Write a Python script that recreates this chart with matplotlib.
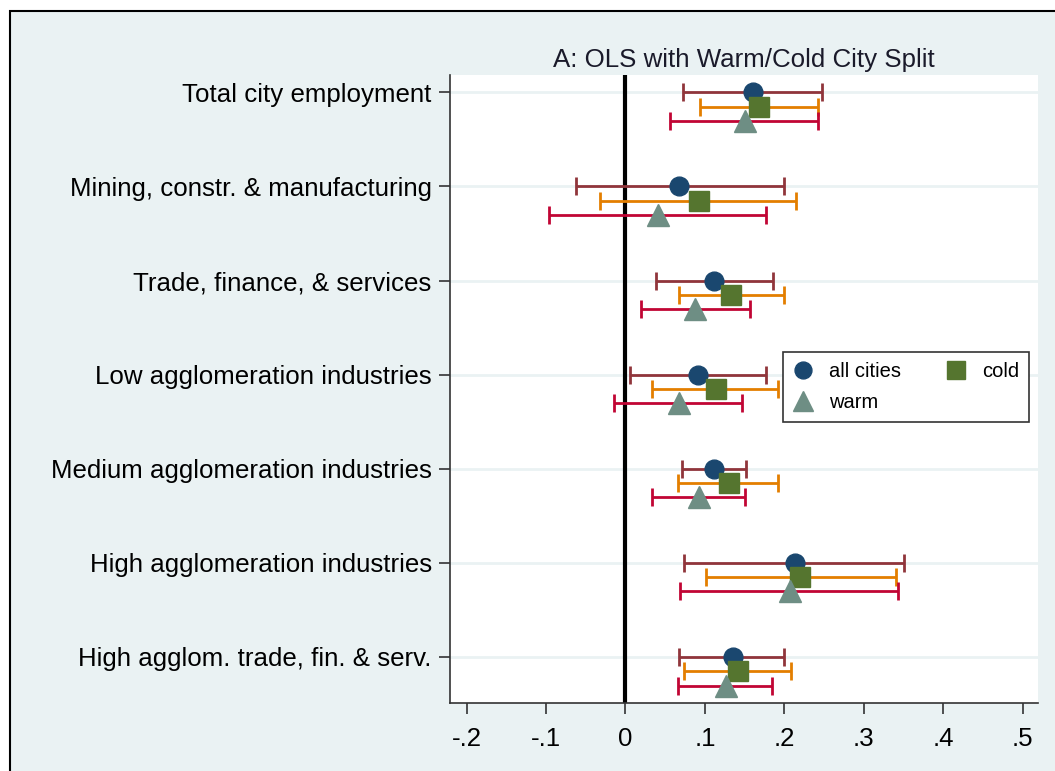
# coefficient plot: OLS with warm/cold city split
import matplotlib.pyplot as plt
from matplotlib.patches import Rectangle
import numpy as np

plt.rcParams['font.family'] = ['Liberation Sans', 'DejaVu Sans']

# data
categories = ["Total city employment",
              "Mining, constr. & manufacturing",
              "Trade, finance, & services",
              "Low agglomeration industries",
              "Medium agglomeration industries",
              "High agglomeration industries",
              "High agglom. trade, fin. & serv."]

all_est = [0.160, 0.068, 0.112, 0.091, 0.112, 0.214, 0.135]
all_lo  = [0.073, -0.062, 0.038, 0.006, 0.071, 0.074, 0.067]
all_hi  = [0.248, 0.199, 0.186, 0.177, 0.152, 0.351, 0.200]

cold_est = [0.168, 0.092, 0.133, 0.114, 0.130, 0.220, 0.142]
cold_lo  = [0.094, -0.032, 0.068, 0.034, 0.066, 0.101, 0.074]
cold_hi  = [0.243, 0.215, 0.199, 0.192, 0.192, 0.341, 0.209]

warm_est = [0.150, 0.041, 0.088, 0.067, 0.092, 0.207, 0.126]
warm_lo  = [0.056, -0.096, 0.019, -0.014, 0.034, 0.069, 0.066]
warm_hi  = [0.242, 0.177, 0.157, 0.147, 0.150, 0.343, 0.184]

xticks = [-0.2, -0.1, 0, 0.1, 0.2, 0.3, 0.4, 0.5]
xticklabels = ["-.2", "-.1", "0", ".1", ".2", ".3", ".4", ".5"]

# stata s2color palette
bg = '#eaf2f3'
series = [
    ("all cities", all_est, all_lo, all_hi, 0.0,   '#1a476f', '#90353b', 'o', 13.5),
    ("cold",       cold_est, cold_lo, cold_hi, 0.153, '#55752f', '#e37e00', 's', 14),
    ("warm",       warm_est, warm_lo, warm_hi, 0.305, '#6e8e84', '#c10534', '^', 16),
]

fs = 18.6

fig = plt.figure(figsize=(10.55, 7.71), dpi=100)
fig.patch.set_facecolor('white')
# outer graph region with frame (cut off at right/bottom)
frame = Rectangle((10 / 1055, -0.1), 1.2, 1 - 11 / 771 + 0.1,
                  transform=fig.transFigure, facecolor=bg,
                  edgecolor='black', linewidth=1.5, zorder=-10)
fig.add_artist(frame)

ax = fig.add_axes([0.4263, 0.0882, 0.9839 - 0.4263, 0.9027 - 0.0882])
ax.set_facecolor('white')
ax.set_zorder(1)

pos = np.arange(len(categories))
for k in pos:
    ax.axhline(k, color=bg, linewidth=2, zorder=0)

ax.axvline(0, color='black', linewidth=3, zorder=1)

handles = []
for name, est, lo, hi, off, mcol, ecol, mk, ms in series:
    est = np.array(est)
    y = pos + off
    xerr = [est - np.array(lo), np.array(hi) - est]
    ax.errorbar(est, y, xerr=xerr, fmt='none', ecolor=ecol, elinewidth=2,
                capsize=6.5, capthick=2, zorder=2)
    h, = ax.plot(est, y, linestyle='none', marker=mk, markersize=ms,
                 color=mcol, markeredgecolor=mcol, zorder=3, label=name)
    handles.append(h)

ax.set_xlim(-0.2213, 0.5195)
ax.set_ylim(6.49, -0.184)
ax.set_yticks(pos)
ax.set_yticklabels(categories, fontsize=fs)
ax.set_xticks(xticks)
ax.set_xticklabels(xticklabels, fontsize=fs)
ax.tick_params(axis='both', direction='out', length=8, width=1.2, color='#333333', pad=5)
ax.tick_params(axis='x', pad=9)

for s in ['top', 'right']:
    ax.spines[s].set_visible(False)
for s in ['left', 'bottom']:
    ax.spines[s].set_color('#333333')
    ax.spines[s].set_linewidth(1.2)

ax.set_title("A: OLS with Warm/Cold City Split", fontsize=fs, color='#1a1a2a', pad=6)

# legend order gives all cities / cold on first row, warm below
leg = ax.legend([handles[0], handles[2], handles[1]], ["all cities", "warm", "cold"],
                ncol=2, loc='upper left', bbox_to_anchor=(0.5665, 0.559),
                borderaxespad=0, fontsize=14.5, frameon=True, fancybox=False,
                edgecolor='#333333', framealpha=1, markerscale=0.9,
                handlelength=1.0, handletextpad=0.8, columnspacing=2.2,
                borderpad=0.5, labelspacing=0.6)
leg.get_frame().set_linewidth(1.2)

fig.savefig("out.png", dpi=100)
